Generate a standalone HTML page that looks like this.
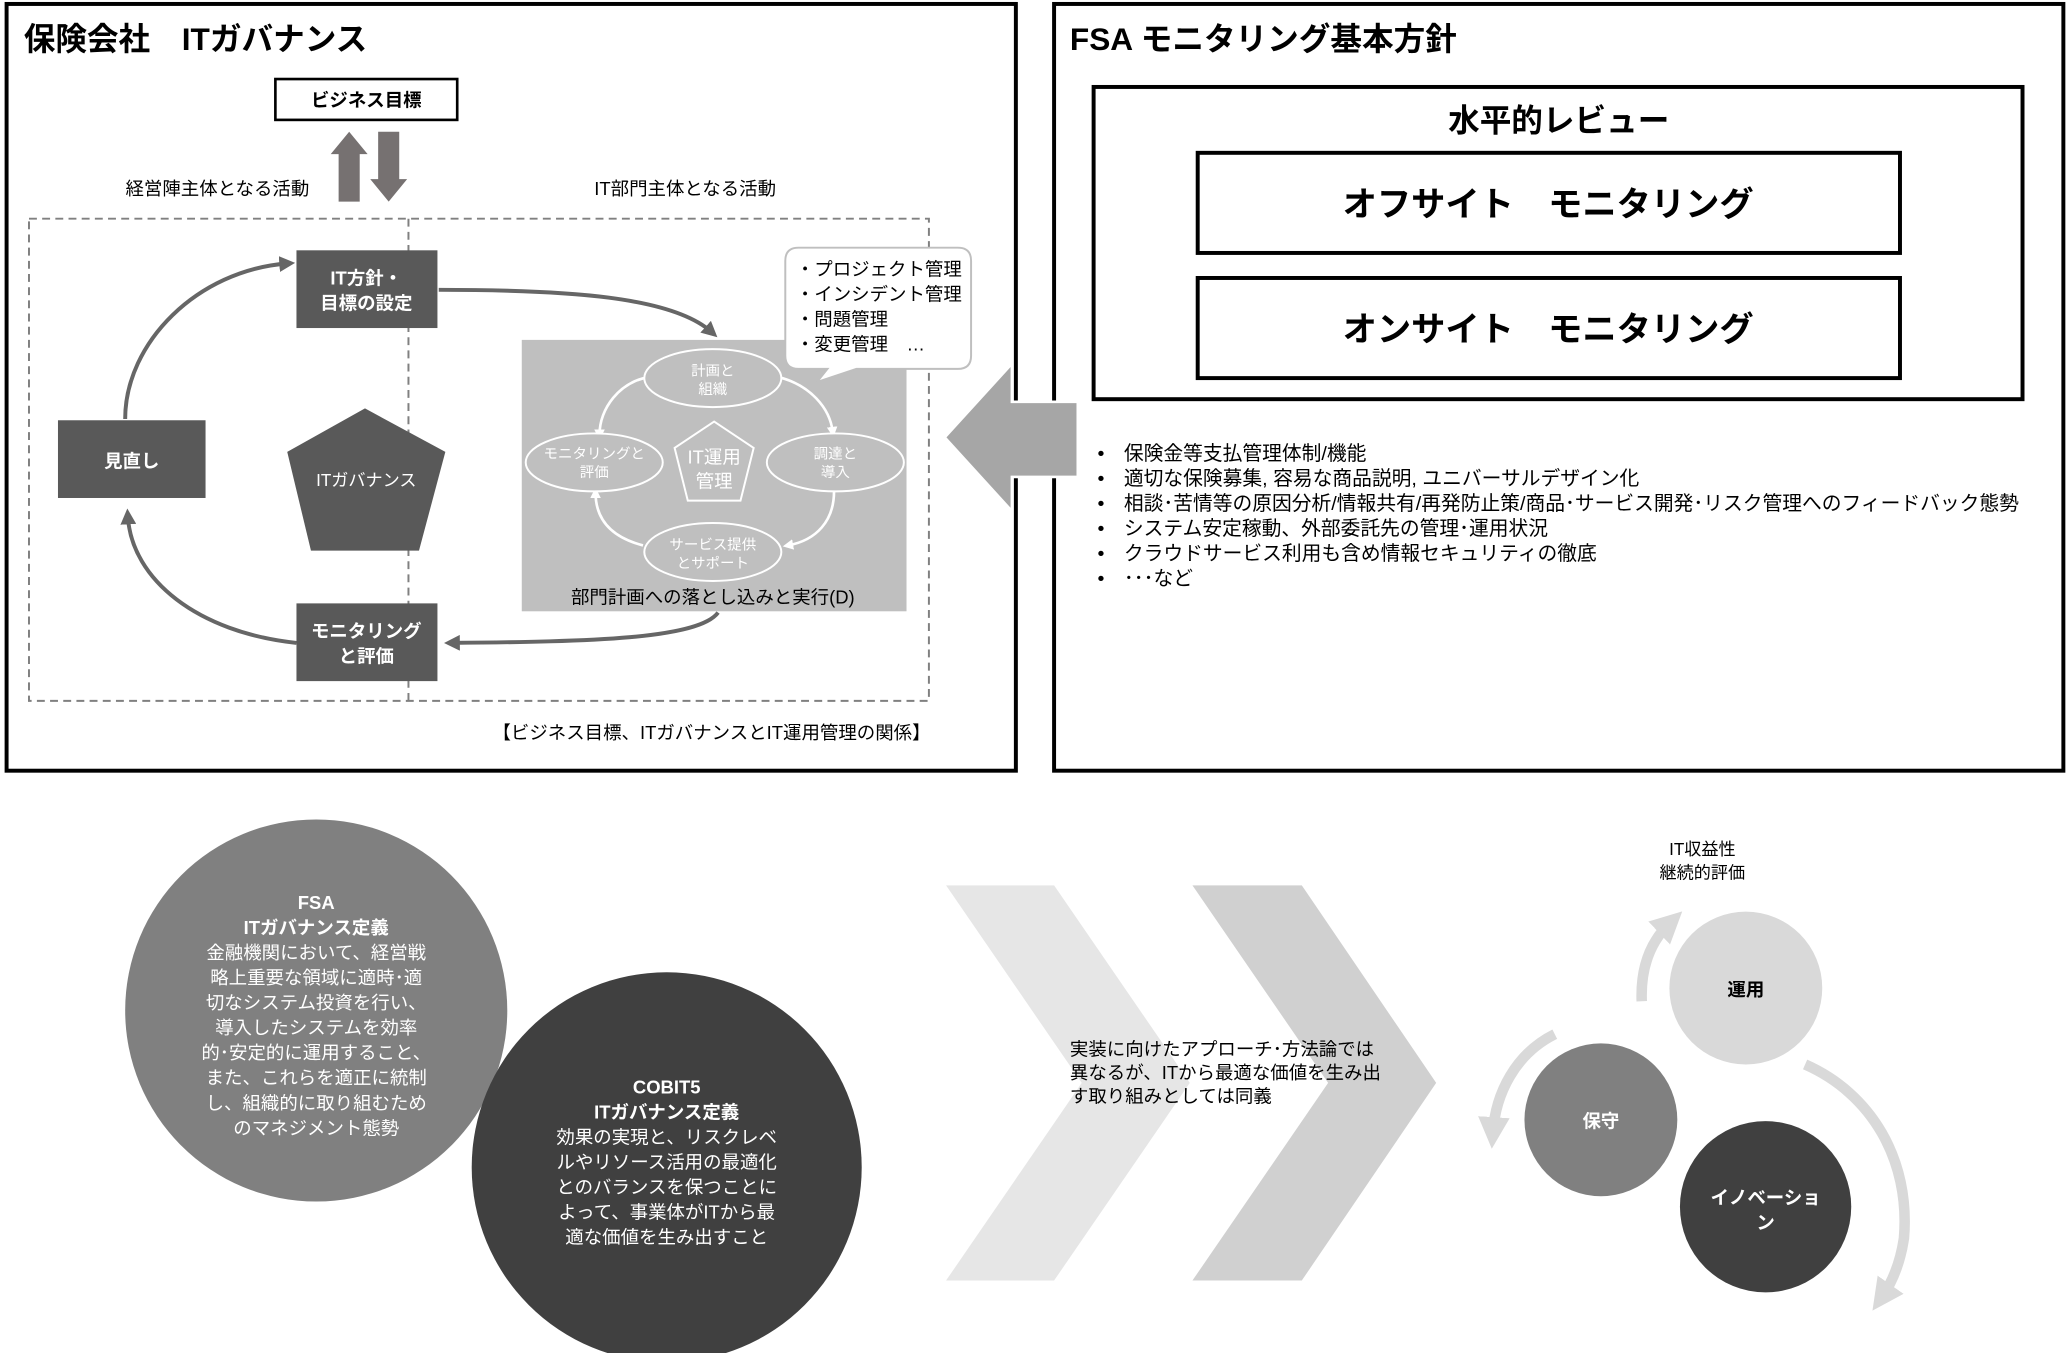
<!DOCTYPE html>
<html><head><meta charset="utf-8"><style>
html,body{margin:0;padding:0;background:#fff;}
svg{display:block;}
text{font-family:"Liberation Sans","Noto Sans CJK JP",sans-serif;}
</style></head><body>
<svg width="2066" height="1353" viewBox="0 0 1568 1027" preserveAspectRatio="none" xmlns="http://www.w3.org/2000/svg">
<defs>
<marker id="ah" markerWidth="4" markerHeight="4" refX="2" refY="2" orient="auto" markerUnits="strokeWidth"><path d="M0,0 L4,2 L0,4 z" fill="#666"/></marker>
<marker id="aw" markerWidth="4" markerHeight="4" refX="2" refY="2" orient="auto" markerUnits="strokeWidth"><path d="M0,0 L4,2 L0,4 z" fill="#fff"/></marker>
<marker id="al" markerWidth="3" markerHeight="3" refX="1.5" refY="1.5" orient="auto" markerUnits="strokeWidth"><path d="M0,0 L3,1.5 L0,3 z" fill="#d9d9d9"/></marker>
</defs>
<rect x="5" y="3" width="766" height="582" fill="#fff" stroke="#000" stroke-width="3"/>
<text x="18" y="38" font-size="24" font-weight="bold">保険会社　ITガバナンス</text>
<rect x="209" y="60" width="138" height="31" fill="#fff" stroke="#000" stroke-width="2"/>
<text x="278" y="81" font-size="14" font-weight="bold" text-anchor="middle">ビジネス目標</text>
<polygon points="257,153 257,117 251,117 265,100 279,117 273,117 273,153" fill="#767171"/>
<polygon points="287,100 287,136 281,136 295,153 309,136 303,136 303,100" fill="#767171"/>
<text x="165" y="148" font-size="14" text-anchor="middle">経営陣主体となる活動</text>
<text x="520" y="148" font-size="14" text-anchor="middle">IT部門主体となる活動</text>
<rect x="22" y="166" width="683" height="366" fill="none" stroke="#808080" stroke-width="1.5" stroke-dasharray="6,4"/>
<line x1="310" y1="166" x2="310" y2="532" stroke="#808080" stroke-width="1.5" stroke-dasharray="6,4"/>
<path d="M95,318 C95,260 150,205 218,200" fill="none" stroke="#666" stroke-width="3" marker-end="url(#ah)"/>
<path d="M225,488 C150,480 100,440 97,392" fill="none" stroke="#666" stroke-width="3" marker-end="url(#ah)"/>
<path d="M333,220 C430,220 510,225 540,252" fill="none" stroke="#666" stroke-width="3" marker-end="url(#ah)"/>
<path d="M545,465 C530,485 450,487 343,488" fill="none" stroke="#666" stroke-width="3" marker-end="url(#ah)"/>
<rect x="225" y="190" width="107" height="59" fill="#595959"/>
<text x="278" y="216" font-size="14" font-weight="bold" fill="#fff" text-anchor="middle">IT方針・</text>
<text x="278" y="235" font-size="14" font-weight="bold" fill="#fff" text-anchor="middle">目標の設定</text>
<rect x="44" y="319" width="112" height="59" fill="#595959"/>
<text x="100" y="355" font-size="14" font-weight="bold" fill="#fff" text-anchor="middle">見直し</text>
<polygon points="277,310 338,343 318,418 236,418 218,343" fill="#595959"/>
<text x="278" y="369" font-size="13" fill="#fff" text-anchor="middle">ITガバナンス</text>
<rect x="225" y="458" width="107" height="59" fill="#595959"/>
<text x="278" y="484" font-size="14" font-weight="bold" fill="#fff" text-anchor="middle">モニタリング</text>
<text x="278" y="503" font-size="14" font-weight="bold" fill="#fff" text-anchor="middle">と評価</text>
<rect x="396" y="258" width="292" height="206" fill="#bfbfbf"/>
<path d="M493,286 C470,290 455,310 455,330" fill="none" stroke="#fff" stroke-width="2" marker-end="url(#aw)"/>
<path d="M590,286 C615,292 630,310 632,328" fill="none" stroke="#fff" stroke-width="2" marker-end="url(#aw)"/>
<path d="M633,373 C633,395 620,410 598,414" fill="none" stroke="#fff" stroke-width="2" marker-end="url(#aw)"/>
<path d="M488,414 C465,408 452,395 452,374" fill="none" stroke="#fff" stroke-width="2" marker-end="url(#aw)"/>
<g fill="#bfbfbf" stroke="#fff" stroke-width="1.5">
<ellipse cx="541" cy="287" rx="52" ry="22"/>
<ellipse cx="634" cy="351" rx="52" ry="22"/>
<ellipse cx="451" cy="351" rx="52" ry="22"/>
<ellipse cx="541" cy="419" rx="52" ry="22"/>
<polygon points="542,320 572,340 562,380 522,380 512,340"/>
</g>
<g fill="#fff" font-size="11" text-anchor="middle">
<text x="541" y="285">計画と</text><text x="541" y="299">組織</text>
<text x="634" y="348">調達と</text><text x="634" y="362">導入</text>
<text x="451" y="348">モニタリングと</text><text x="451" y="362">評価</text>
<text x="541" y="417">サービス提供</text><text x="541" y="431">とサポート</text>
<text x="542" y="352" font-size="14">IT運用</text><text x="542" y="370" font-size="14">管理</text>
</g>
<text x="541" y="458" font-size="14" text-anchor="middle">部門計画への落とし込みと実行(D)</text>
<path d="M606,188 H727 Q737,188 737,198 V270 Q737,280 727,280 H650 L620,290 L628,280 H606 Q596,280 596,270 V198 Q596,188 606,188 Z" fill="#fff" stroke="#bfbfbf" stroke-width="1.5"/>
<g font-size="14">
<text x="604" y="209">・プロジェクト管理</text>
<text x="604" y="228">・インシデント管理</text>
<text x="604" y="247">・問題管理</text>
<text x="604" y="266">・変更管理　…</text>
</g>
<text x="540" y="561" font-size="14" text-anchor="middle">【ビジネス目標、ITガバナンスとIT運用管理の関係】</text>
<rect x="800" y="3" width="766" height="582" fill="#fff" stroke="#000" stroke-width="3"/>
<text x="812" y="38" font-size="24" font-weight="bold">FSA モニタリング基本方針</text>
<rect x="830" y="66" width="705" height="237" fill="#fff" stroke="#000" stroke-width="3"/>
<text x="1183" y="100" font-size="24" font-weight="bold" text-anchor="middle">水平的レビュー</text>
<rect x="909" y="116" width="533" height="76" fill="#fff" stroke="#000" stroke-width="3"/>
<text x="1175" y="164" font-size="26" font-weight="bold" text-anchor="middle">オフサイト　モニタリング</text>
<rect x="909" y="211" width="533" height="76" fill="#fff" stroke="#000" stroke-width="3"/>
<text x="1175" y="259" font-size="26" font-weight="bold" text-anchor="middle">オンサイト　モニタリング</text>
<polygon points="717,332 768,276 768,305 818,305 818,362 768,362 768,388" fill="#a6a6a6" stroke="#fff" stroke-width="2"/>
<g font-size="15">
<text x="833" y="349">•</text><text x="853" y="349">保険金等支払管理体制/機能</text>
<text x="833" y="368">•</text><text x="853" y="368">適切な保険募集, 容易な商品説明, ユニバーサルデザイン化</text>
<text x="833" y="387">•</text><text x="853" y="387">相談･苦情等の原因分析/情報共有/再発防止策/商品･サービス開発･リスク管理へのフィードバック態勢</text>
<text x="833" y="406">•</text><text x="853" y="406">システム安定稼動、外部委託先の管理･運用状況</text>
<text x="833" y="425">•</text><text x="853" y="425">クラウドサービス利用も含め情報セキュリティの徹底</text>
<text x="833" y="444">•</text><text x="853" y="444">･･･など</text>
</g>
<circle cx="240" cy="767" r="145" fill="#808080"/>
<g fill="#fff" font-size="14" text-anchor="middle">
<text x="240" y="690" font-weight="bold">FSA</text>
<text x="240" y="709" font-weight="bold">ITガバナンス定義</text>
<text x="240" y="728">金融機関において、経営戦</text>
<text x="240" y="747">略上重要な領域に適時･適</text>
<text x="240" y="766">切なシステム投資を行い、</text>
<text x="240" y="785">導入したシステムを効率</text>
<text x="240" y="804">的･安定的に運用すること、</text>
<text x="240" y="823">また、これらを適正に統制</text>
<text x="240" y="842">し、組織的に取り組むため</text>
<text x="240" y="861">のマネジメント態勢</text>
</g>
<circle cx="506" cy="886" r="148" fill="#404040"/>
<g fill="#fff" font-size="14" text-anchor="middle">
<text x="506" y="830" font-weight="bold">COBIT5</text>
<text x="506" y="849" font-weight="bold">ITガバナンス定義</text>
<text x="506" y="868">効果の実現と、リスクレベ</text>
<text x="506" y="887">ルやリソース活用の最適化</text>
<text x="506" y="906">とのバランスを保つことに</text>
<text x="506" y="925">よって、事業体がITから最</text>
<text x="506" y="944">適な価値を生み出すこと</text>
</g>
<polygon points="718,672 800,672 903,822 800,972 718,972 821,822" fill="#e6e6e6"/>
<polygon points="905,672 988,672 1090,822 988,972 905,972 1008,822" fill="#d0d0d0"/>
<g font-size="14">
<text x="812" y="801">実装に向けたアプローチ･方法論では</text>
<text x="812" y="819">異なるが、ITから最適な価値を生み出</text>
<text x="812" y="837">す取り組みとしては同義</text>
</g>
<text x="1292" y="649" font-size="13" text-anchor="middle">IT収益性</text>
<text x="1292" y="667" font-size="13" text-anchor="middle">継続的評価</text>
<path d="M1246,760 C1245,735 1252,715 1268,700" fill="none" stroke="#d9d9d9" stroke-width="8" marker-end="url(#al)"/>
<path d="M1180,785 C1150,800 1135,830 1133,860" fill="none" stroke="#d9d9d9" stroke-width="8" marker-end="url(#al)"/>
<path d="M1370,808 C1420,830 1450,880 1445,940 C1442,960 1435,975 1428,985" fill="none" stroke="#d9d9d9" stroke-width="8" marker-end="url(#al)"/>
<circle cx="1325" cy="750" r="58" fill="#d9d9d9"/>
<text x="1325" y="756" font-size="14" font-weight="bold" text-anchor="middle">運用</text>
<circle cx="1215" cy="850" r="58" fill="#808080"/>
<text x="1215" y="856" font-size="14" font-weight="bold" fill="#fff" text-anchor="middle">保守</text>
<circle cx="1340" cy="916" r="65" fill="#404040"/>
<text x="1340" y="914" font-size="14" font-weight="bold" fill="#fff" text-anchor="middle">イノベーショ</text>
<text x="1340" y="933" font-size="14" font-weight="bold" fill="#fff" text-anchor="middle">ン</text>
</svg>
</body></html>
